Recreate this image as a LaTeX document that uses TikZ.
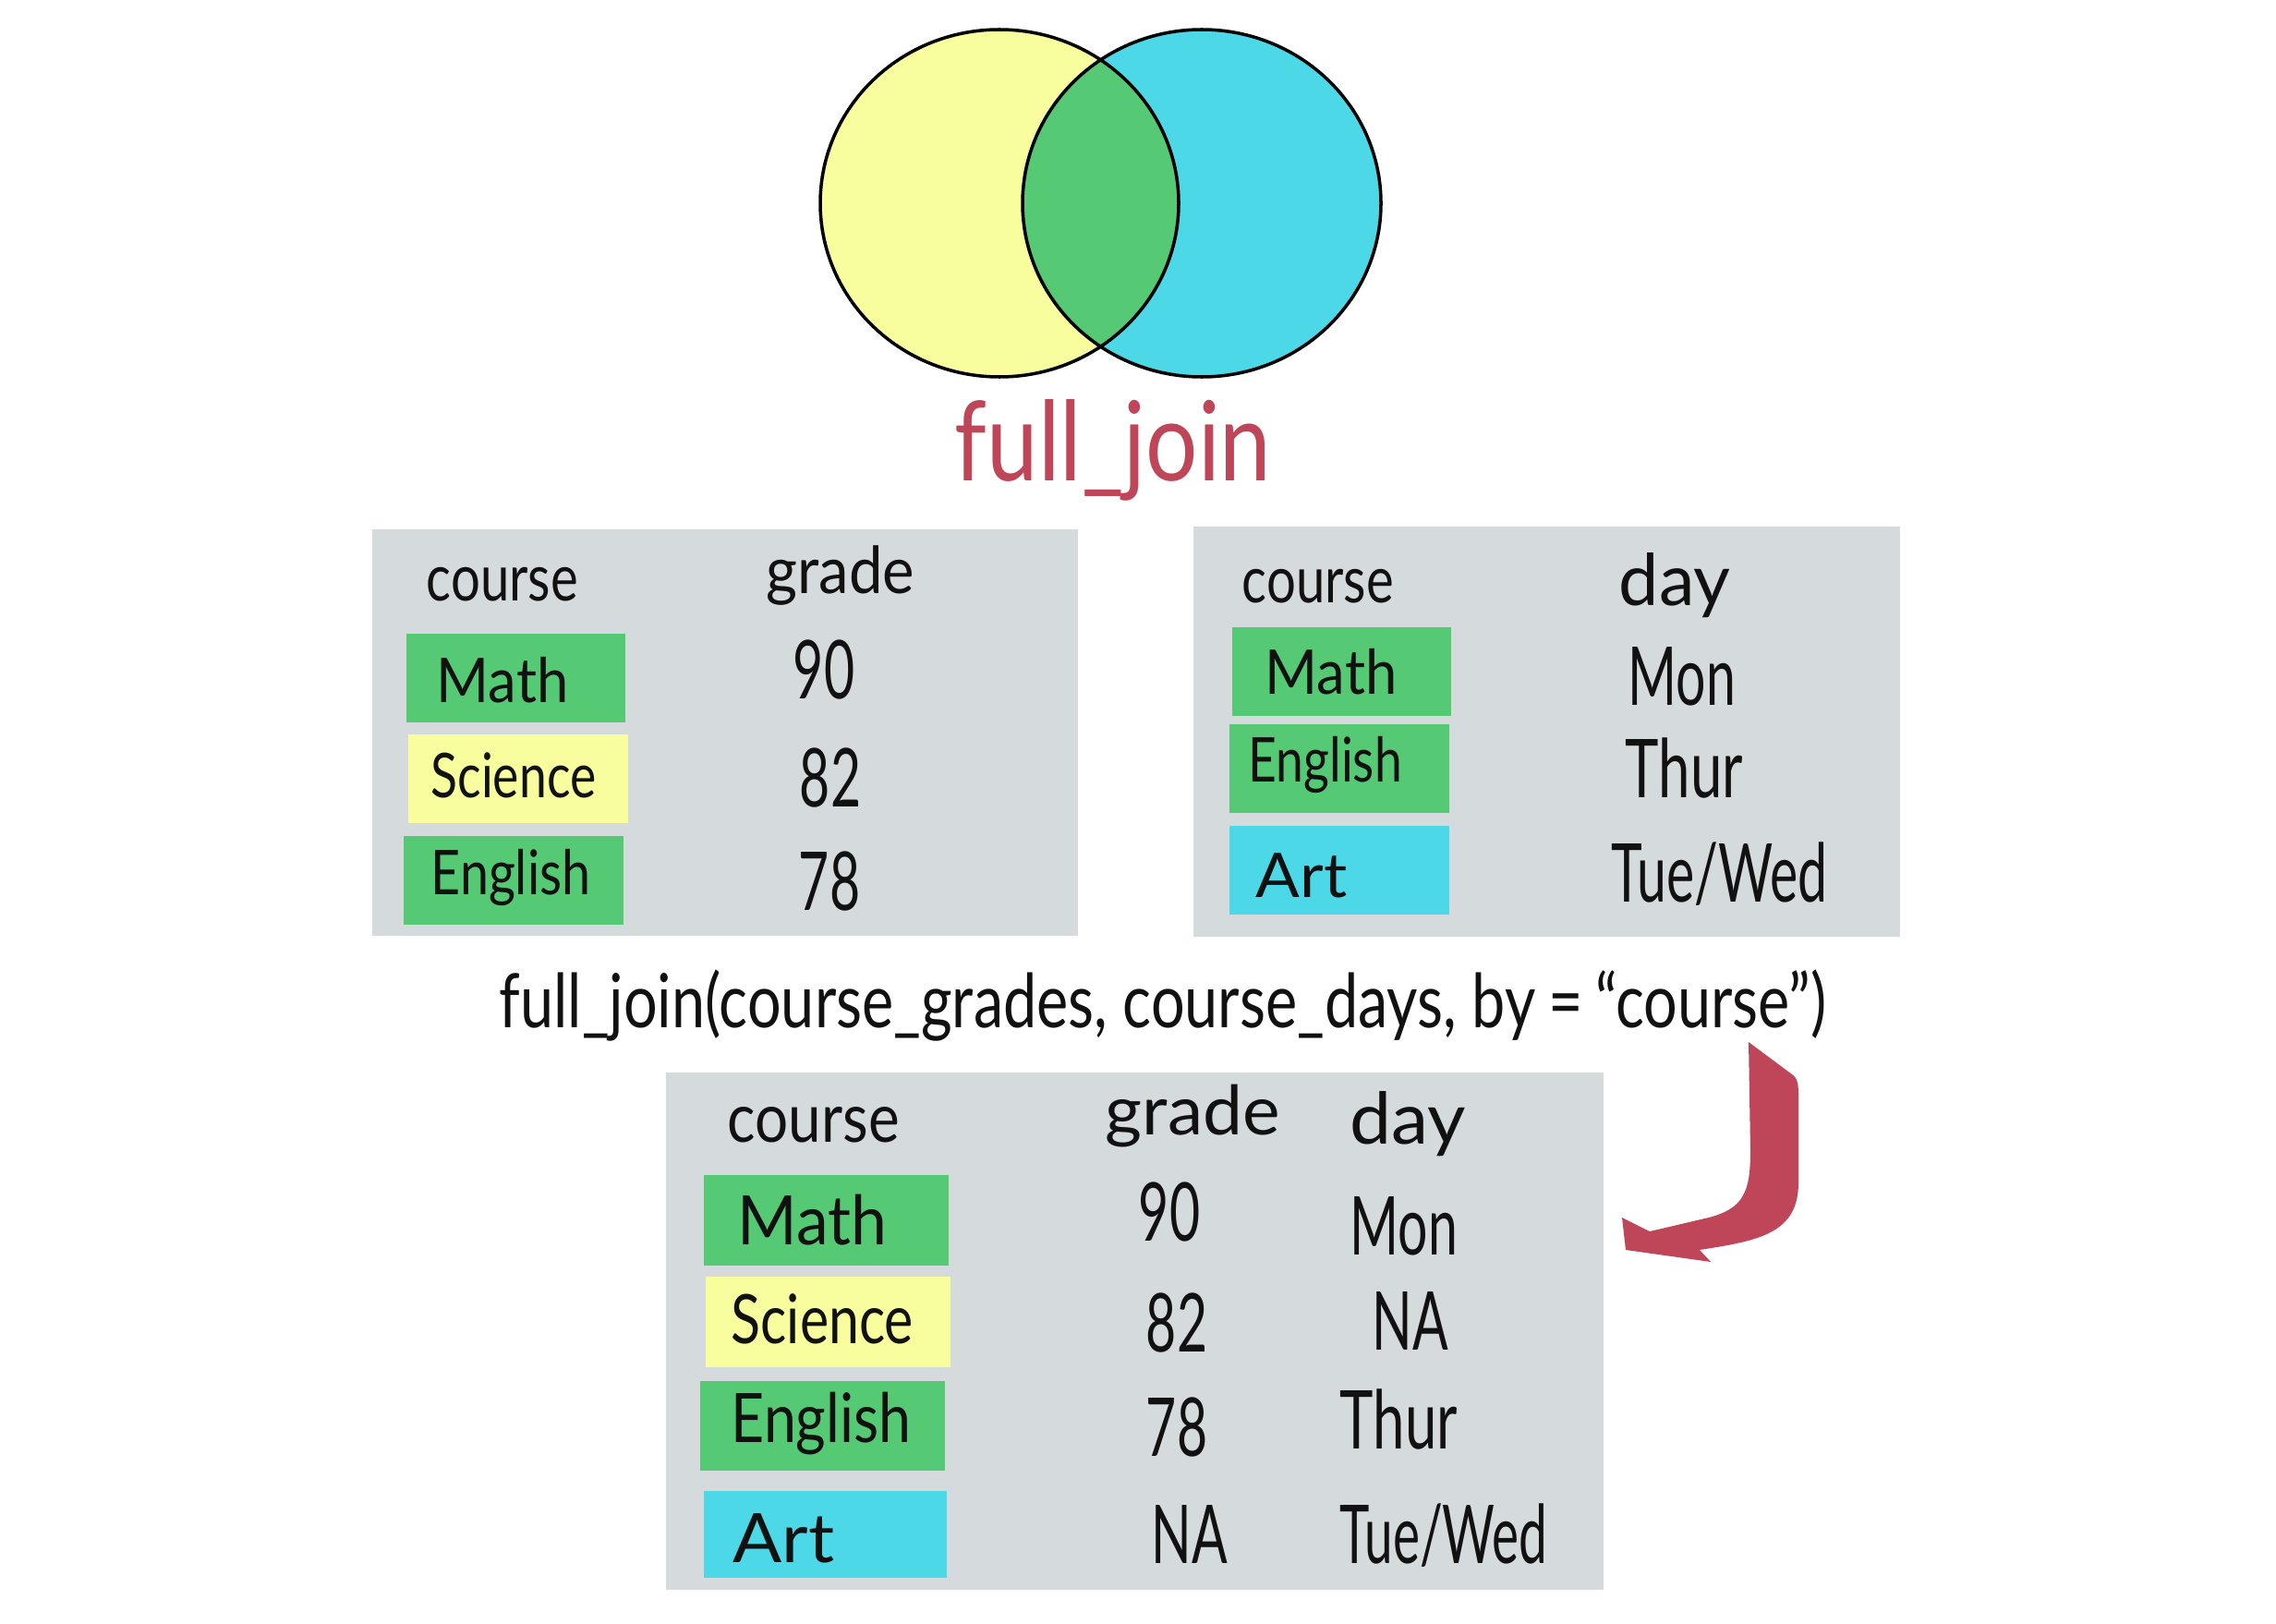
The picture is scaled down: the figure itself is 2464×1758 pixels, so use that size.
\documentclass[tikz,border=0pt]{standalone}
\usepackage{fontspec}
\newfontfamily\hand[FakeStretch=0.8]{Lato}
\newfontfamily\handn[FakeStretch=0.65]{Lato}
\definecolor{vyellow}{HTML}{F8FD9E}
\definecolor{vcyan}{HTML}{4DD8E8}
\definecolor{vgreen}{HTML}{55C973}
\definecolor{tgray}{HTML}{D5DADD}
\definecolor{ared}{HTML}{BF4659}
\definecolor{ink}{HTML}{111111}
\newcommand{\wx}[2]{\scalebox{#1}[1]{#2}}
\tikzset{
  hdr/.style={anchor=base west, inner sep=0pt, text=ink, font=\hand\fontsize{#1}{#1}\selectfont},
  hdr/.default=20,
  lab/.style={anchor=base west, inner sep=0pt, text=ink, font=\hand\fontsize{#1}{#1}\selectfont},
  lab/.default=19,
  val/.style={anchor=base, inner sep=0pt, text=ink, font=\handn\fontsize{25}{28}\selectfont},
  valw/.style={val, anchor=base west},
  tablebg/.style={fill=tgray},
  venn/.style={draw=black, line width=1pt},
}
\begin{document}
\begin{tikzpicture}[x=0.01cm,y=-0.01cm]
\useasboundingbox (0,0) rectangle (2464,1758);
\fill[white] (0,0) rectangle (2464,1758);

% Venn diagram
\fill[vyellow] (1082,220) ellipse [x radius=194, y radius=188];
\fill[vcyan] (1301,220) ellipse [x radius=194, y radius=188];
\begin{scope}
  \clip (1082,220) ellipse [x radius=194, y radius=188];
  \fill[vgreen] (1301,220) ellipse [x radius=194, y radius=188];
\end{scope}
\draw[venn] (1082,220) ellipse [x radius=194, y radius=188];
\draw[venn] (1301,220) ellipse [x radius=194, y radius=188];
\node[anchor=base west, inner sep=0pt, text=ared, font=\hand\fontsize{34}{40}\selectfont] (title) at (1033,520) {\wx{1.04}{full\_join}};

% Table 1: course_grades
\fill[tablebg] (403,573) rectangle (1167,1013);
\fill[vgreen] (440,686) rectangle (677,782);
\fill[vyellow] (442,795) rectangle (680,891);
\fill[vgreen] (437,905) rectangle (675,1001);
\node[hdr] (t1course) at (461,650) {course};
\node[hdr] (t1grade) at (829,642) {\wx{1.16}{grade}};
\node[lab] (t1math) at (472,760) {\wx{1.15}{Math}};
\node[lab] (t1sci) at (466,863) {Science};
\node[lab] (t1eng) at (466,968) {\wx{1.04}{English}};
\node[val] (t1g1) at (892,756) {90};
\node[val] (t1g2) at (899,873) {82};
\node[val] (t1g3) at (898,985) {78};

% Table 2: course_days
\fill[tablebg] (1292,570) rectangle (2057,1014);
\fill[vgreen] (1334,679) rectangle (1571,775);
\fill[vgreen] (1331,784) rectangle (1569,880);
\fill[vcyan] (1331,894) rectangle (1569,990);
\node[hdr] (t2course) at (1344,652) {course};
\node[hdr=22] (t2day) at (1752,655) {\wx{1.25}{day}};
\node[lab] (t2math) at (1369,751) {\wx{1.15}{Math}};
\node[lab] (t2eng) at (1351,846) {English};
\node[lab] (t2art) at (1359,971) {\wx{1.32}{Art}};
\node[valw] (t2d1) at (1762,763) {Mon};
\node[valw] (t2d2) at (1759,863) {\wx{1.08}{Thur}};
\node[valw] (t2d3) at (1744,976) {Tue/Wed};

% Code
\node[anchor=base west, inner sep=0pt, text=ink, font=\hand\fontsize{23}{28}\selectfont] (code) at (540,1112)
  {full\_join(course\_grades, course\_days, by\,=\,“course”)};

% Arrow
\fill[ared] (1893,1128) -- (1940,1163) .. controls (1947,1168) and (1947,1175) .. (1947,1190)
  -- (1947,1280) .. controls (1947,1335) and (1905,1343) .. (1840,1353)
  -- (1852,1366) -- (1760,1353) -- (1756,1318) -- (1786,1333)
  -- (1850,1318) .. controls (1888,1308) and (1895,1290) .. (1895,1245) -- cycle;

% Table 3: result
\fill[tablebg] (721,1161) rectangle (1736,1721);
\fill[vgreen] (762,1272) rectangle (1027,1370);
\fill[vyellow] (764,1382) rectangle (1029,1480);
\fill[vgreen] (758,1495) rectangle (1023,1592);
\fill[vcyan] (762,1614) rectangle (1025,1708);
\node[hdr=21] (t3course) at (787,1236) {\wx{1.08}{course}};
\node[hdr=21] (t3grade) at (1196,1228) {\wx{1.3}{grade}};
\node[hdr=22] (t3day) at (1461,1238) {\wx{1.3}{day}};
\node[lab=21] (t3math) at (798,1347) {\wx{1.18}{Math}};
\node[lab=21] (t3sci) at (791,1454) {Science};
\node[lab=21] (t3eng) at (791,1561) {\wx{1.06}{English}};
\node[lab=21] (t3art) at (793,1691) {\wx{1.33}{Art}};
\node[val] (t3g1) at (1266,1343) {90};
\node[val] (t3g2) at (1274,1463) {82};
\node[val] (t3g3) at (1274,1576) {78};
\node[val] (t3g4) at (1288,1692) {NA};
\node[valw] (t3d1) at (1461,1358) {Mon};
\node[val] (t3d2) at (1527,1461) {NA};
\node[valw] (t3d3) at (1450,1568) {\wx{1.08}{Thur}};
\node[valw] (t3d4) at (1450,1692) {\wx{0.96}{Tue/Wed}};
\end{tikzpicture}
\end{document}
